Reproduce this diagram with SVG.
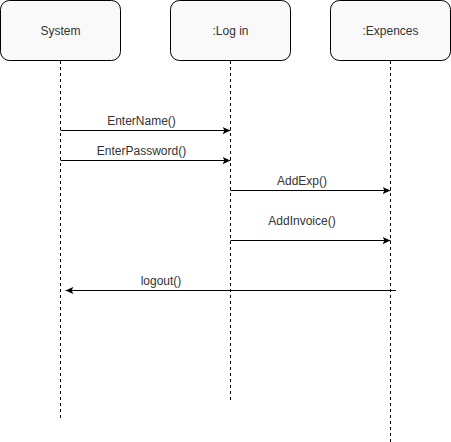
<svg xmlns="http://www.w3.org/2000/svg" width="451" height="442" viewBox="0 0 451 442">
<style>
.box{fill:#f9f9f9;stroke:#000;stroke-width:1}
.life{stroke:#000;stroke-width:1;stroke-dasharray:3 3;fill:none}
.msg{stroke:#000;stroke-width:1;fill:none}
text{font-family:Helvetica,"Liberation Sans",Arial,sans-serif;font-size:12px;fill:#333;text-anchor:middle}
</style>
<defs>
<marker id="arr" viewBox="0 0 10 10" refX="10" refY="5" markerWidth="8" markerHeight="8" markerUnits="userSpaceOnUse" orient="auto">
<path d="M0,0.5 L10,5 L0,9.5 L2.5,5 Z" fill="#000"/>
</marker>
</defs>
<rect width="451" height="442" fill="#fff"/>
<g id="system">
<rect class="box" x="0.5" y="0.5" width="120" height="60" rx="9" ry="9"/>
<text x="60.5" y="34.5">System</text>
<line class="life" x1="60.5" y1="61" x2="60.5" y2="421"/>
</g>
<g id="login">
<rect class="box" x="170.5" y="0.5" width="120" height="60" rx="9" ry="9"/>
<text x="230.5" y="34.5">:Log in</text>
<line class="life" x1="230.5" y1="61" x2="230.5" y2="401"/>
</g>
<g id="expences">
<rect class="box" x="330.5" y="0.5" width="120" height="60" rx="9" ry="9"/>
<text x="390.5" y="34.5">:Expences</text>
<line class="life" x1="390.5" y1="61" x2="390.5" y2="442"/>
</g>
<g id="connectors">
<line class="msg" x1="60.5" y1="130.5" x2="230.5" y2="130.5" marker-end="url(#arr)"/>
<text x="141.5" y="125">EnterName()</text>
<line class="msg" x1="60.5" y1="160.5" x2="230.5" y2="160.5" marker-end="url(#arr)"/>
<text x="141.5" y="155">EnterPassword()</text>
<line class="msg" x1="230.5" y1="190.5" x2="390.5" y2="190.5" marker-end="url(#arr)"/>
<text x="302" y="185">AddExp()</text>
<line class="msg" x1="230.5" y1="240.5" x2="390.5" y2="240.5" marker-end="url(#arr)"/>
<text x="302" y="225">AddInvoice()</text>
<line class="msg" x1="396" y1="290.5" x2="65.5" y2="290.5" marker-end="url(#arr)"/>
<text x="161" y="285">logout()</text>
</g>
</svg>
